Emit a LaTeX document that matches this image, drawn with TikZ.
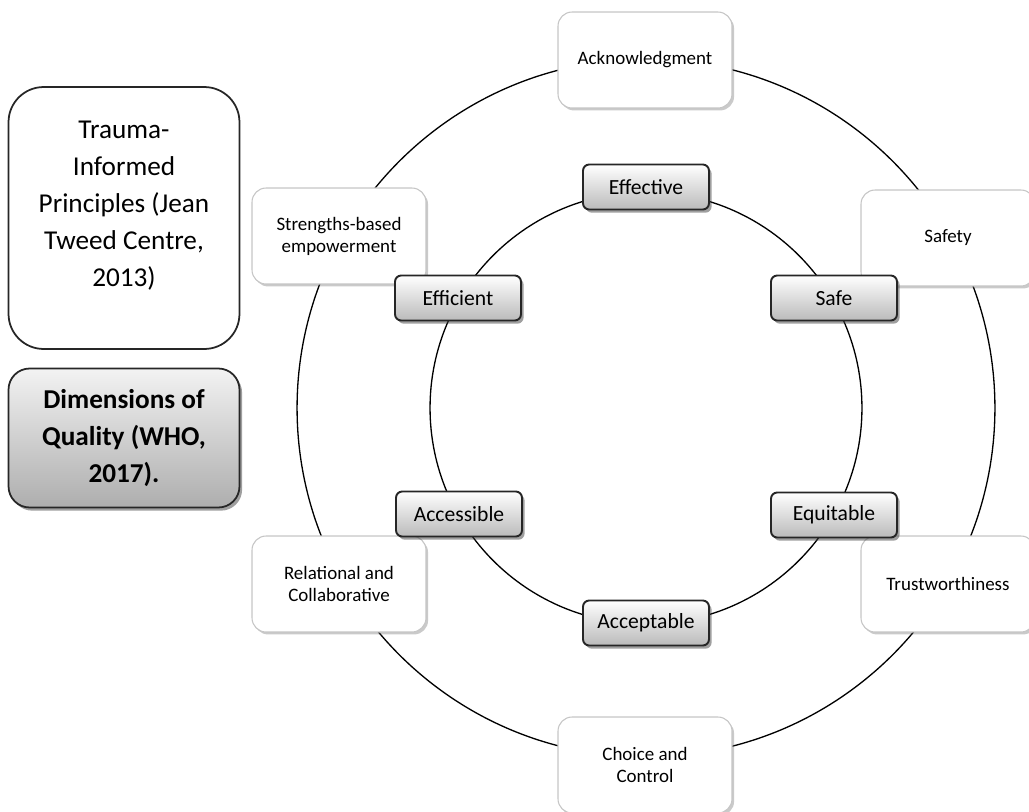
\documentclass[tikz,border=0pt]{standalone}
\usepackage{fontspec}
\setmainfont{Carlito}
\usepackage{tikz}
\usetikzlibrary{shadows}

\tikzset{
  principle/.style={draw=gray!45, line width=0.6pt, fill=white, rounded corners=8pt,
    minimum width=3.48cm, minimum height=1.92cm, inner sep=2pt, align=center,
    font=\fontsize{10.8}{12.5}\selectfont,
    drop shadow={shadow xshift=1.2pt, shadow yshift=-1.4pt, opacity=0.35, fill=black!60}},
  quality/.style={draw=black!85, line width=1.1pt, top color=white, bottom color=black!27,
    rounded corners=3.5pt, minimum width=2.52cm, minimum height=0.9cm, inner sep=1pt,
    font=\fontsize{12.3}{14}\selectfont,
    drop shadow={shadow xshift=1.5pt, shadow yshift=-1.8pt, opacity=0.5, fill=black!75}},
  ring/.style={line width=0.75pt, black}
}

\begin{document}
\begin{tikzpicture}[x=0.02cm, y=-0.02cm]
\useasboundingbox (0,0) rectangle (1029,812);
\coordinate (ctr) at (646,408);

% two rings
\draw[ring] (ctr) circle (6.98cm);
\draw[ring] (ctr) circle (4.32cm);

% legend boxes on the left
\node[draw=black!85, line width=1pt, fill=white, rounded corners=20pt,
  minimum width=4.62cm, minimum height=5.24cm, align=center,
  font=\fontsize{15.5}{21}\selectfont] (legendti) at (124,218)
  {Trauma-\\Informed\\Principles (Jean\\Tweed Centre,\\2013)\\[-5pt]};
\node[draw=black!85, line width=1pt, top color=black!5, bottom color=black!32,
  rounded corners=12pt, minimum width=4.62cm, minimum height=2.78cm, align=center,
  font=\bfseries\fontsize{15.5}{21}\selectfont,
  drop shadow={shadow xshift=1.5pt, shadow yshift=-1.8pt, opacity=0.5, fill=black!75}]
  (legendwho) at (124,438) {Dimensions of\\Quality (WHO,\\2017).};

% outer ring: trauma-informed principles
\node[principle] (ack) at (645,60) {Acknowledgment};
\node[principle] (safety) at (948,238) {Safety};
\node[principle] (trust) at (948,584) {Trustworthiness};
\node[principle] (choice) at (645,765) {Choice and\\Control};
\node[principle] (relational) at (339,584) {Relational and\\Collaborative};
\node[principle] (strengths) at (339,236) {Strengths-based\\empowerment};

% inner ring: dimensions of quality
\node[quality] (effective) at (646,187) {Effective};
\node[quality] (safe) at (834,298) {Safe};
\node[quality] (equitable) at (834,515) {Equitable};
\node[quality] (acceptable) at (646,623) {Acceptable};
\node[quality] (accessible) at (459,514) {Accessible};
\node[quality] (efficient) at (458,298) {Efficient};
\end{tikzpicture}
\end{document}
